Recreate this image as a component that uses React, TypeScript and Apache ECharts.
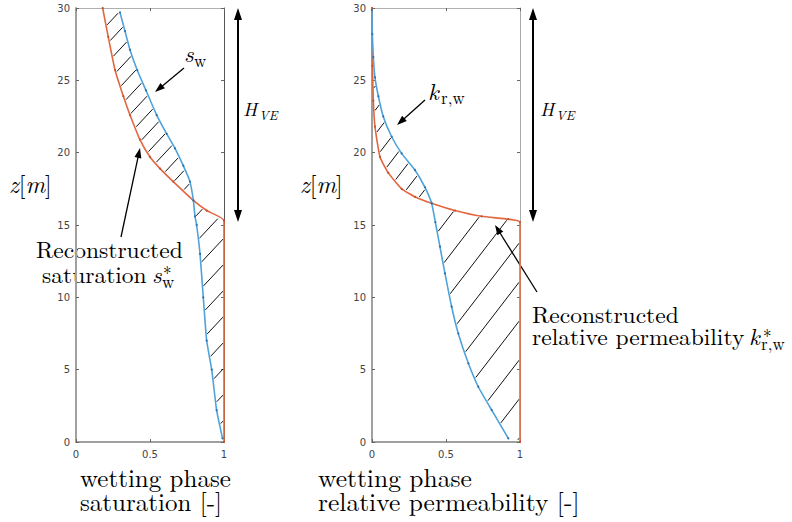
import React, { useEffect, useRef } from "react";
import * as echarts from "echarts";

// Left panel: wetting phase saturation
const SW_Z = [29.7, 28.4, 27.1, 25.7, 24.3, 22.6, 21.3, 20.3, 19.1, 18.0, 16.7, 15.6, 15.0, 13.0, 10.0, 7.0, 5.0, 2.2, 0.25];
const SW_S = [0.297, 0.331, 0.365, 0.414, 0.473, 0.545, 0.613, 0.669, 0.725, 0.77, 0.793, 0.804, 0.815, 0.838, 0.86, 0.883, 0.917, 0.95, 0.99];
const SWR_Z = [30, 28, 25.7, 23.9, 22.6, 20.9, 19.7, 18.9, 18.0, 16.7, 16.0, 15.3, 0];
const SWR_S = [0.18, 0.218, 0.264, 0.32, 0.365, 0.432, 0.5, 0.568, 0.657, 0.793, 0.883, 1.0, 1.0];

// Right panel: relative permeability
const KR_Z = [29.85, 28.2, 26.6, 25.2, 23.9, 22.5, 21.1, 19.95, 18.8, 17.6, 16.5, 15.2, 13.5, 11.65, 9.35, 7.5, 5.44, 3.82, 2.2, 0.25];
const KR_K = [0, 0.002, 0.009, 0.02, 0.043, 0.076, 0.133, 0.2, 0.29, 0.358, 0.403, 0.428, 0.459, 0.493, 0.538, 0.583, 0.651, 0.718, 0.809, 0.921];
const KRR_Z = [30, 26, 23.6, 21.8, 19.7, 18.6, 17.5, 16.95, 16.5, 16.0, 15.6, 15.4, 15.2, 0];
const KRR_K = [0, 0.003, 0.009, 0.02, 0.054, 0.11, 0.2, 0.29, 0.403, 0.56, 0.74, 0.92, 1.0, 1.0];

const X_TICKS = [0, 0.5, 1];
const Z_MAX = 30;
const LEFT_SPLIT_Z = 16.7;
const RIGHT_SPLIT_Z = 16.5;

const BLUE = "#4fa3da";
const BLUE_DOT = "#2d6fa6";
const RED = "#e2673f";
const SERIF = "Latin Modern Roman";
const SANS = "DejaVu Sans";

type P = [number, number];

function hatchSegments(poly: P[], t: number, d: number, anchor: P, filter: (y: number) => boolean, gap: number): any[] {
  const vals = poly.map((p) => p[1] + t * p[0]);
  const cmin = Math.min(...vals);
  const cmax = Math.max(...vals);
  const c0 = anchor[1] + t * anchor[0];
  const kmin = Math.floor((cmin - c0) / d);
  const kmax = Math.ceil((cmax - c0) / d);
  const out: any[] = [];
  for (let k = kmin; k <= kmax; k++) {
    const c = c0 + k * d;
    const xs: number[] = [];
    for (let i = 0; i < poly.length; i++) {
      const a = poly[i];
      const b = poly[(i + 1) % poly.length];
      const fa = a[1] + t * a[0] - c;
      const fb = b[1] + t * b[0] - c;
      if ((fa > 0) !== (fb > 0)) {
        const r = fa / (fa - fb);
        xs.push(a[0] + (b[0] - a[0]) * r);
      }
    }
    xs.sort((m, n) => m - n);
    for (let j = 0; j + 1 < xs.length; j += 2) {
      let xa = xs[j];
      let xb = xs[j + 1];
      const len = (xb - xa) * Math.sqrt(1 + t * t);
      if (len < 5) continue;
      const shrink = gap / Math.sqrt(1 + t * t);
      xa += shrink;
      xb -= shrink;
      const ya = c - t * xa;
      const yb = c - t * xb;
      if (!filter((ya + yb) / 2)) continue;
      out.push({
        type: "line",
        shape: { x1: xa, y1: ya, x2: xb, y2: yb },
        style: { stroke: "#111", lineWidth: 1 },
      });
    }
  }
  return out;
}

function makeHatch(
  bx: number[], bz: number[], rx: number[], rz: number[], splitZ: number,
  top: { t: number; d: number; a: P }, bottom: { t: number; d: number; a: P }
) {
  return (_params: any, api: any) => {
    const poly: P[] = [];
    for (let i = 0; i < bx.length; i++) poly.push(api.coord([bx[i], bz[i]]));
    for (let i = rx.length - 1; i >= 0; i--) poly.push(api.coord([rx[i], rz[i]]));
    const splitY = api.coord([0, splitZ])[1];
    const segs = [
      ...hatchSegments(poly, top.t, top.d, top.a, (y) => y < splitY, 1.5),
      ...hatchSegments(poly, bottom.t, bottom.d, bottom.a, (y) => y >= splitY, 1.5),
    ];
    return { type: "group", children: segs };
  };
}

function txt(text: string, x: number, y: number, size: number, italic = false): any {
  const style: any = {
    text,
    fontSize: size,
    fontFamily: SERIF,
    fill: "#000",
    align: "left",
    verticalAlign: "middle",
  };
  if (italic) style.fontStyle = "italic";
  return { type: "text", x, y, silent: true, style };
}

function zLabel(x: number, y: number): any {
  return {
    type: "text",
    x,
    y,
    silent: true,
    style: {
      text: "{i|z}{r|[}{i|m}{r|]}",
      fill: "#000",
      align: "left",
      verticalAlign: "middle",
      rich: {
        i: { fontSize: 24, fontFamily: SERIF, fontStyle: "italic", fill: "#000" },
        r: { fontSize: 24, fontFamily: SERIF, fill: "#000" },
      },
    },
  };
}

function arrowHead(x1: number, y1: number, x2: number, y2: number, head: number, w: number): any {
  const dx = x2 - x1;
  const dy = y2 - y1;
  const L = Math.sqrt(dx * dx + dy * dy);
  const ux = dx / L;
  const uy = dy / L;
  const bx = x2 - ux * head;
  const by = y2 - uy * head;
  return {
    type: "polygon",
    silent: true,
    shape: { points: [[x2, y2], [bx - uy * w / 2, by + ux * w / 2], [bx + uy * w / 2, by - ux * w / 2]] },
    style: { fill: "#000" },
  };
}

function arrow(x1: number, y1: number, x2: number, y2: number, head = 10, w = 7, lw = 1.3, both = false): any[] {
  const dx = x2 - x1;
  const dy = y2 - y1;
  const L = Math.sqrt(dx * dx + dy * dy);
  const ux = dx / L;
  const uy = dy / L;
  const sx = both ? x1 + ux * (head - 2) : x1;
  const sy = both ? y1 + uy * (head - 2) : y1;
  const els: any[] = [
    {
      type: "line",
      silent: true,
      shape: { x1: sx, y1: sy, x2: x2 - ux * (head - 2), y2: y2 - uy * (head - 2) },
      style: { stroke: "#000", lineWidth: lw },
    },
    arrowHead(x1, y1, x2, y2, head, w),
  ];
  if (both) els.push(arrowHead(x2, y2, x1, y1, head, w));
  return els;
}

function xAxes(grid: number): any[] {
  return [
    {
      gridIndex: grid,
      type: "value",
      min: X_TICKS[0],
      max: X_TICKS[X_TICKS.length - 1],
      interval: 0.5,
      position: "bottom",
      axisLine: { show: true, onZero: false, lineStyle: { color: "#a0a0a0", width: 2 } },
      axisTick: { show: true, inside: true, length: 3, lineStyle: { color: "#666" } },
      axisLabel: { show: true, fontSize: 10, color: "#444", fontFamily: SANS, margin: 7 },
      splitLine: { show: false },
    },
    {
      gridIndex: grid,
      type: "value",
      min: X_TICKS[0],
      max: X_TICKS[X_TICKS.length - 1],
      interval: 0.5,
      position: "top",
      axisLine: { show: true, onZero: false, lineStyle: { color: "#b0b0b0", width: 1 } },
      axisTick: { show: true, inside: true, length: 3, lineStyle: { color: "#666" } },
      axisLabel: { show: false },
      splitLine: { show: false },
    },
  ];
}

function yAxes(grid: number, rightColor: string): any[] {
  return [
    {
      gridIndex: grid,
      type: "value",
      min: 0,
      max: Z_MAX,
      interval: 5,
      position: "left",
      axisLine: { show: true, onZero: false, lineStyle: { color: "#a0a0a0", width: 2 } },
      axisTick: { show: true, inside: true, length: 3, lineStyle: { color: "#666" } },
      axisLabel: { show: true, fontSize: 10, color: "#444", fontFamily: SANS, margin: 6 },
      splitLine: { show: false },
    },
    {
      gridIndex: grid,
      type: "value",
      min: 0,
      max: Z_MAX,
      interval: 5,
      position: "right",
      axisLine: { show: true, onZero: false, lineStyle: { color: rightColor, width: 1 } },
      axisTick: { show: true, inside: true, length: 3, lineStyle: { color: "#666" } },
      axisLabel: { show: false },
      splitLine: { show: false },
    },
  ];
}

function lineSeries(xi: number, xs: number[], zs: number[], color: string, dot: string, z: number): any {
  return {
    type: "line",
    xAxisIndex: xi,
    yAxisIndex: xi,
    data: xs.map((v, i) => [v, zs[i]]),
    showSymbol: true,
    symbol: "circle",
    symbolSize: 2,
    itemStyle: { color: dot },
    lineStyle: { color, width: 1.6 },
    smooth: 0.15,
    z,
    silent: true,
  };
}

export default function App() {
  const ref = useRef<HTMLDivElement>(null);
  useEffect(() => {
    if (!ref.current) return;
    const chart = echarts.init(ref.current, undefined, { renderer: "svg" });
    const graphics: any[] = [
      zLabel(9, 183),
      zLabel(300, 183),
      // left annotations
      txt("s", 184, 52, 23.5, true),
      txt("w", 194, 60, 17),
      ...arrow(184, 68, 155, 92),
      txt("Reconstructed", 36, 248, 23.5),
      txt("saturation", 42, 273, 23.5),
      txt("s", 152, 273, 23.5, true),
      txt("w", 162, 281, 17),
      txt("*", 163, 272, 17),
      ...arrow(121, 237, 140, 148),
      ...arrow(238, 8, 238, 222, 12, 8, 2, true),
      txt("H", 243, 108, 19, true),
      txt("VE", 259, 114, 13, true),
      // right annotations
      txt("k", 428, 90, 23.5, true),
      txt("r,w", 441, 97, 17),
      ...arrow(425, 100, 397, 125),
      txt("Reconstructed", 532, 313, 23.5),
      txt("relative permeability", 532, 335, 23.5),
      txt("k", 749, 335, 23.5, true),
      txt("r,w", 761, 343, 17),
      txt("*", 763, 335, 17),
      ...arrow(537, 292, 495, 225),
      ...arrow(533, 8, 533, 222, 12, 8, 2, true),
      txt("H", 540, 108, 19, true),
      txt("VE", 556, 114, 13, true),
      // bottom axis titles
      txt("wetting phase", 80, 476, 25),
      txt("saturation [-]", 80, 500, 25),
      txt("wetting phase", 318, 476, 25.5),
      txt("relative permeability [-]", 318, 500, 25.5),
    ];
    chart.setOption({
      animation: false,
      backgroundColor: "#fff",
      grid: [
        { left: 76, top: 8, width: 148, height: 434 },
        { left: 372, top: 8, width: 148, height: 434 },
      ],
      xAxis: [...xAxes(0), ...xAxes(1)],
      yAxis: [...yAxes(0, "#555"), ...yAxes(1, "#aaa")],
      series: [
        {
          type: "custom",
          xAxisIndex: 0,
          yAxisIndex: 0,
          data: [[0.5, 15]],
          silent: true,
          clip: false,
          z: 1,
          renderItem: makeHatch(SW_S, SW_Z, SWR_S, SWR_Z, LEFT_SPLIT_Z,
            { t: 1.07, d: 19, a: [150, 150] }, { t: 1.07, d: 26, a: [224, 238] }),
        },
        lineSeries(0, SWR_S, SWR_Z, RED, "#c0502a", 3),
        lineSeries(0, SW_S, SW_Z, BLUE, BLUE_DOT, 4),
        {
          type: "custom",
          xAxisIndex: 2,
          yAxisIndex: 2,
          data: [[0.5, 15]],
          silent: true,
          clip: false,
          z: 1,
          renderItem: makeHatch(KR_K, KR_Z, KRR_K, KRR_Z, RIGHT_SPLIT_Z,
            { t: 1.3, d: 24, a: [400, 150] }, { t: 1.3, d: 39, a: [520, 242] }),
        },
        lineSeries(2, KRR_K, KRR_Z, RED, "#c0502a", 3),
        lineSeries(2, KR_K, KR_Z, BLUE, BLUE_DOT, 4),
      ],
      graphic: graphics,
    });
    return () => chart.dispose();
  }, []);
  return <div ref={ref} style={{ position: "fixed", left: 0, top: 0, width: 792, height: 522 }} />;
}
